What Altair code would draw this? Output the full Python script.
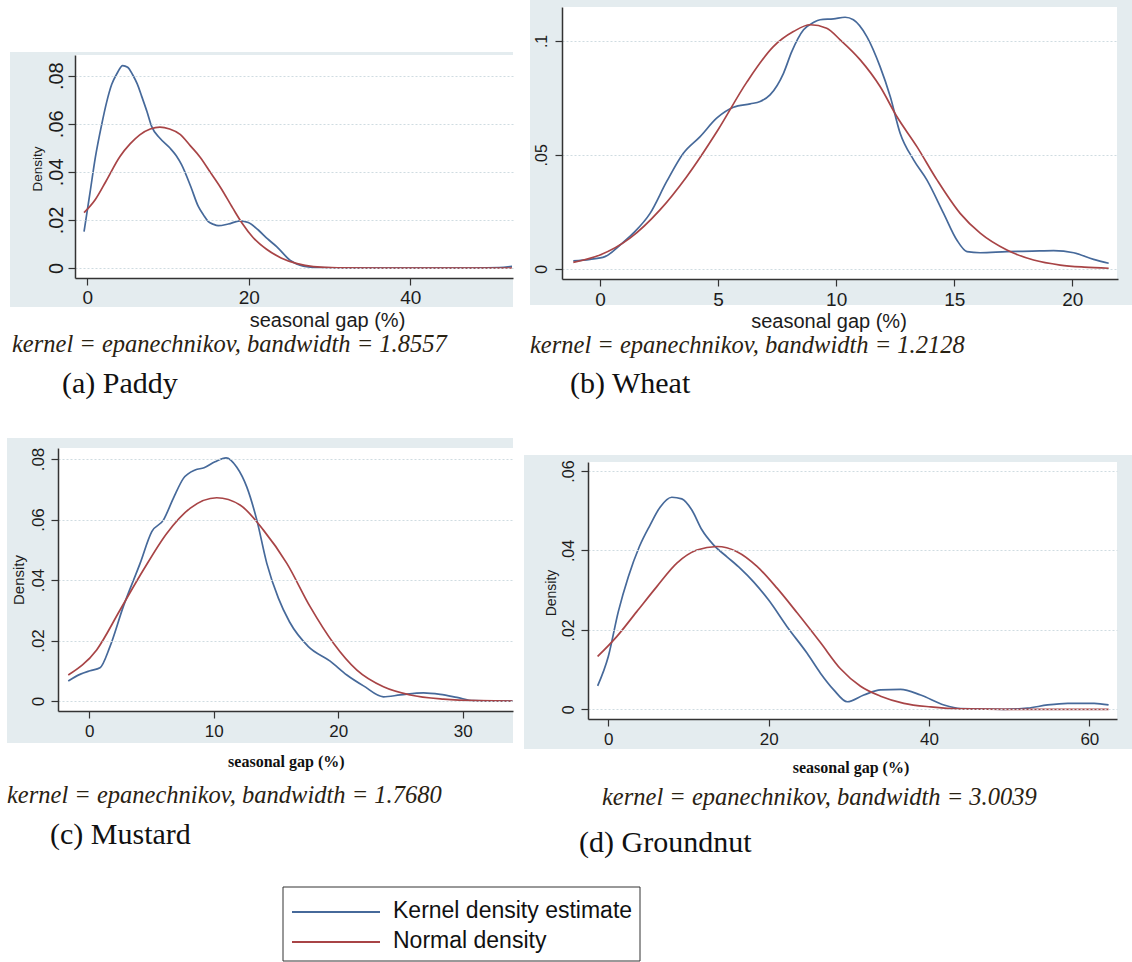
import altair as alt
import pandas as pd

W, H = 1132, 962
SANS = "Liberation Sans"
SERIF = "Liberation Serif"

SERIES = ["Kernel density estimate", "Normal density"]
COLORS = ["#46699a", "#a84446"]

# ---------------- (a) Paddy ----------------
paddy_kde_x = [-0.4, 0.33, 1.0, 1.78, 2.4, 3.02, 3.7, 4.38, 5.0, 5.62, 6.2, 6.74, 7.4, 7.97, 9.0,
               10.24, 11.0, 11.69, 12.8, 13.75, 14.4, 14.99, 15.6, 16.22, 17.46, 18.91, 19.94,
               21.18, 22.3, 23.45, 25.1, 26.75, 28.8, 32.0, 36.0, 40.0, 44.0, 48.0, 51.0, 52.6]
paddy_kde_y = [0.0151, 0.0311, 0.046, 0.0596, 0.069, 0.0763, 0.081, 0.0842, 0.0835, 0.0804, 0.0765,
               0.0714, 0.065, 0.0589, 0.054, 0.0499, 0.0468, 0.0429, 0.034, 0.0256, 0.022, 0.0193,
               0.0182, 0.0176, 0.0183, 0.0196, 0.0189, 0.0158, 0.0122, 0.0089, 0.0033, 0.0008,
               0.0002, 0.0, 0.0, 0.0, 0.0, 0.0, 0.0002, 0.0007]
paddy_norm_x = [-0.4, 1.0, 2.3, 4.05, 5.3, 6.5, 7.8, 9.0, 10.2, 11.5, 12.8, 14.0, 15.3, 16.5, 18.0,
                19.2, 20.5, 22.2, 24.0, 26.0, 28.0, 31.0, 36.0, 44.0, 52.6]
paddy_norm_y = [0.023, 0.0285, 0.036, 0.0464, 0.0516, 0.0554, 0.0578, 0.0586, 0.0578, 0.0556,
                0.0507, 0.046, 0.0395, 0.0335, 0.025, 0.0185, 0.0128, 0.0078, 0.0042, 0.0018,
                0.0006, 0.0001, 0.0, 0.0, 0.0]

# ---------------- (b) Wheat ----------------
wheat_kde_x = [-1.13, -0.42, 0.21, 0.85, 1.41, 2.12, 2.82, 3.53, 4.24, 4.94, 5.65, 6.36, 6.78, 7.2,
               7.77, 8.12, 8.62, 9.04, 9.32, 9.89, 10.38, 10.73, 11.3, 11.86, 12.29, 12.71, 13.28,
               13.84, 14.55, 15.11, 15.54, 16.1, 17.23, 18.3, 19.21, 20.06, 20.9, 21.54]
wheat_kde_y = [0.0034, 0.0041, 0.0053, 0.0104, 0.0156, 0.0243, 0.0382, 0.0507, 0.058, 0.0661,
               0.0709, 0.0724, 0.0734, 0.0763, 0.0858, 0.0953, 0.1049, 0.1081, 0.1093, 0.1097,
               0.1104, 0.1093, 0.1019, 0.0887, 0.0756, 0.0595, 0.0478, 0.039, 0.0243, 0.0126,
               0.0075, 0.007, 0.0075, 0.0077, 0.0079, 0.007, 0.0041, 0.0024]
wheat_norm_x = [-1.13, 0.0, 1.27, 2.54, 3.67, 5.0, 6.21, 7.34, 8.19, 8.9, 9.6, 10.17, 11.02, 11.86,
                12.57, 13.42, 14.27, 15.25, 16.1, 17.23, 18.36, 19.49, 20.5, 21.54]
wheat_norm_y = [0.0028, 0.006, 0.0134, 0.0258, 0.0404, 0.061, 0.0818, 0.0975, 0.1041, 0.1071,
                0.1056, 0.1005, 0.0917, 0.08, 0.0668, 0.0536, 0.039, 0.0243, 0.0156, 0.0082,
                0.0038, 0.0016, 0.0007, 0.0002]

# ---------------- (c) Mustard ----------------
mustard_kde_x = [-1.69, -0.75, 0.06, 0.86, 1.66, 2.73, 4.08, 5.02, 5.95, 6.75, 7.56, 8.5, 9.22, 10.1,
                 10.99, 11.85, 12.65, 13.46, 14.26, 15.19, 16.08, 17.6, 19.35, 20.69, 22.03, 23.63,
                 24.98, 26.85, 28.19, 29.53, 30.87, 32.5, 34.0]
mustard_kde_y = [0.0066, 0.0088, 0.01, 0.011, 0.018, 0.0312, 0.0455, 0.056, 0.0598, 0.067, 0.0736,
                 0.0764, 0.0771, 0.0791, 0.0804, 0.0773, 0.0708, 0.0598, 0.0455, 0.034, 0.0262,
                 0.018, 0.0132, 0.0086, 0.005, 0.0014, 0.002, 0.0027, 0.0022, 0.0012, 0.0001, 0.0, 0.0]
mustard_norm_x = [-1.69, 0.59, 2.47, 4.34, 6.22, 8.09, 10.24, 12.11, 13.99, 15.87, 17.74, 19.62,
                  21.5, 23.63, 25.78, 28.46, 31.3, 34.0]
mustard_norm_y = [0.0086, 0.0169, 0.0301, 0.0433, 0.0554, 0.0637, 0.0672, 0.0648, 0.0565, 0.0455,
                  0.0312, 0.0191, 0.0102, 0.0047, 0.002, 0.0006, 0.0001, 0.0]

# ---------------- (d) Groundnut ----------------
groundnut_kde_x = [-1.33, 0.0, 1.25, 2.5, 3.88, 5.21, 6.46, 7.92, 9.17, 10.42, 11.67, 13.12, 14.8,
                   16.46, 18.12, 20.0, 22.3, 24.8, 26.46, 28.12, 29.8, 31.87, 33.96, 36.46, 38.96,
                   41.87, 43.96, 49.37, 52.3, 54.8, 57.3, 60.6, 62.4]
groundnut_kde_y = [0.0059, 0.0133, 0.0246, 0.0334, 0.041, 0.0464, 0.0509, 0.0534, 0.053, 0.0502,
                   0.0452, 0.0414, 0.0384, 0.0355, 0.0321, 0.0275, 0.0208, 0.0141, 0.0091, 0.0049,
                   0.0019, 0.0036, 0.0049, 0.005, 0.0036, 0.0011, 0.0002, 0.0, 0.0003, 0.0011,
                   0.0015, 0.0015, 0.0011]
groundnut_norm_x = [-1.33, 1.05, 3.55, 6.05, 8.55, 11.05, 13.55, 16.05, 18.55, 21.05, 23.55, 26.46,
                    28.96, 31.46, 33.96, 36.87, 40.2, 44.0, 50.0, 62.4]
groundnut_norm_y = [0.0133, 0.0183, 0.0246, 0.0309, 0.0368, 0.0401, 0.041, 0.0397, 0.036, 0.0305,
                    0.0243, 0.0168, 0.0102, 0.0058, 0.0033, 0.0015, 0.0006, 0.0001, 0.0, 0.0]

bandwidths = ["1.8557", "1.2128", "1.7680", "3.0039"]
captions = ["(a) Paddy", "(b) Wheat", "(c) Mustard", "(d) Groundnut"]
x_title = "seasonal gap (%)"
y_title = "Density"


def series_df(kx, ky, nx, ny):
    return pd.DataFrame({
        "gap": kx + nx,
        "density": ky + ny,
        "series": [SERIES[0]] * len(kx) + [SERIES[1]] * len(nx),
    })


panels = [
    dict(df=series_df(paddy_kde_x, paddy_kde_y, paddy_norm_x, paddy_norm_y),
         xdom=[-1.52, 52.72], xr=[75, 513], ydom=[-0.00416, 0.0886], yr=[278, 55],
         xt=[0, 20, 40], yt=[0, 0.02, 0.04, 0.06, 0.08], xfs=19, yfs=20, ypad=6, xpad=3),
    dict(df=series_df(wheat_kde_x, wheat_kde_y, wheat_norm_x, wheat_norm_y),
         xdom=[-1.609, 21.935], xr=[562, 1118], ydom=[-0.00452, 0.1149], yr=[279, 7],
         xt=[0, 5, 10, 15, 20], yt=[0, 0.05, 0.1], xfs=19, yfs=16, ypad=9, xpad=4),
    dict(df=series_df(mustard_kde_x, mustard_kde_y, mustard_norm_x, mustard_norm_y),
         xdom=[-2.515, 34.04], xr=[58, 513], ydom=[-0.0033, 0.08364], yr=[711, 448],
         xt=[0, 10, 20, 30], yt=[0, 0.02, 0.04, 0.06, 0.08], xfs=17, yfs=17, ypad=8, xpad=5),
    dict(df=series_df(groundnut_kde_x, groundnut_kde_y, groundnut_norm_x, groundnut_norm_y),
         xdom=[-2.532, 63.45], xr=[588, 1117], ydom=[-0.00244, 0.06227], yr=[719, 462],
         xt=[0, 20, 40, 60], yt=[0, 0.02, 0.04, 0.06], xfs=17, yfs=16, ypad=8, xpad=5),
]

AXIS_COLOR = "#333333"
LABEL_COLOR = "#1c1c1c"


def panel_chart(p):
    x_axis = alt.Axis(values=p["xt"], orient="bottom", offset=p["yr"][0] - H, grid=False,
                      title=None, labelFont=SANS, labelFontSize=p["xfs"], labelColor=LABEL_COLOR,
                      labelPadding=p["xpad"], labelFlush=False, labelOverlap=False,
                      tickSize=7, tickColor=AXIS_COLOR, tickWidth=1.2,
                      domainColor=AXIS_COLOR, domainWidth=1.5, zindex=1)
    y_axis = alt.Axis(values=p["yt"], orient="left", offset=-p["xr"][0], grid=True,
                      gridColor="#cfdce1", gridDash=[2, 2], gridWidth=1.2,
                      title=None, labelFont=SANS, labelFontSize=p["yfs"], labelColor=LABEL_COLOR,
                      labelAngle=270, labelAlign="center", labelBaseline="alphabetic",
                      labelPadding=p["ypad"], labelFlush=False, labelOverlap=False,
                      labelExpr="datum.value == 0 ? '0' : slice(format(datum.value, '.2~f'), 1)",
                      tickSize=7, tickColor=AXIS_COLOR, tickWidth=1.2,
                      domainColor=AXIS_COLOR, domainWidth=1.5, zindex=1)
    return alt.Chart(p["df"]).mark_line(strokeWidth=1.7, interpolate="monotone").encode(
        x=alt.X("gap:Q", scale=alt.Scale(domain=p["xdom"], range=p["xr"], nice=False, zero=False),
                axis=x_axis),
        y=alt.Y("density:Q", scale=alt.Scale(domain=p["ydom"], range=p["yr"], nice=False, zero=False),
                axis=y_axis),
        color=alt.Color("series:N", scale=alt.Scale(domain=SERIES, range=COLORS), legend=None),
        detail="series:N",
    )


def box(x0, x1, y0, y1, fill, stroke=None, sw=0):
    kw = dict(fill=fill)
    if stroke:
        kw.update(stroke=stroke, strokeWidth=sw)
    return alt.Chart(alt.Data(values=[{"k": 1}])).mark_rect(**kw).encode(
        x=alt.value(x0), x2=alt.value(x1), y=alt.value(y0), y2=alt.value(y1))


def txt(s, x, y, size, font=SANS, angle=0, align="left", baseline="alphabetic",
        style="normal", weight="normal", color=LABEL_COLOR):
    return alt.Chart(alt.Data(values=[{"label": s}])).mark_text(
        align=align, baseline=baseline, angle=angle, font=font, fontSize=size,
        fontStyle=style, fontWeight=weight, color=color).encode(
        x=alt.value(x), y=alt.value(y), text="label:N")


def seg(x0, x1, y, color):
    return alt.Chart(alt.Data(values=[{"k": 1}])).mark_rule(color=color, strokeWidth=2).encode(
        x=alt.value(x0), x2=alt.value(x1), y=alt.value(y))


BG = "#e4ecef"
layers = [
    box(10, 513, 52, 307, BG), box(530, 1132, 0, 305, BG),
    box(7, 513, 438, 743, BG), box(524, 1132, 455, 749, BG),
    box(75, 513, 55, 278, "white"), box(562, 1117, 7, 279, "white"),
    box(58, 513, 448, 711, "white"), box(588, 1117, 462, 719, "white"),
]
layers += [panel_chart(p) for p in panels]

KCOL = "#2a2212"
layers += [
    txt(y_title, 37.5, 169, 13.5, angle=270, align="center", baseline="middle"),
    txt(y_title, 19, 580, 15, angle=270, align="center", baseline="middle"),
    txt(y_title, 552, 593, 14, angle=270, align="center", baseline="middle"),
    txt(x_title, 327.5, 327, 20, align="center"),
    txt(x_title, 829, 328, 20, align="center"),
    txt(x_title, 286.3, 766.7, 16, font=SERIF, weight="bold", align="center", color="#111111"),
    txt(x_title, 851, 772.7, 16, font=SERIF, weight="bold", align="center", color="#111111"),
]
kpos = [(12, 352), (530, 353), (7, 803), (602, 805)]
for (kx, ky), bw in zip(kpos, bandwidths):
    layers.append(txt(f"kernel = epanechnikov, bandwidth = {bw}", kx, ky, 24.5, font=SERIF,
                      style="italic", color=KCOL))
cpos = [(62, 393), (570, 393), (50, 844), (579, 852)]
for (cx, cy), cap in zip(cpos, captions):
    layers.append(txt(cap, cx, cy, 30, font=SERIF, color="#111111"))

# legend
layers += [
    box(283, 640, 887, 961, "white", stroke="#333333", sw=1),
    seg(292, 380, 912, COLORS[0]),
    seg(292, 380, 942, COLORS[1]),
    txt(SERIES[0], 393, 918, 23, color="#111111"),
    txt(SERIES[1], 393, 948, 23, color="#111111"),
]

chart = alt.layer(*layers).resolve_scale(
    x="independent", y="independent"
).properties(
    width=W, height=H, padding=0,
    autosize=alt.AutoSizeParams(type="none"),
    background="white",
).configure_view(stroke=None)

chart.save("out.html", embed_options={"renderer": "svg", "actions": False})
